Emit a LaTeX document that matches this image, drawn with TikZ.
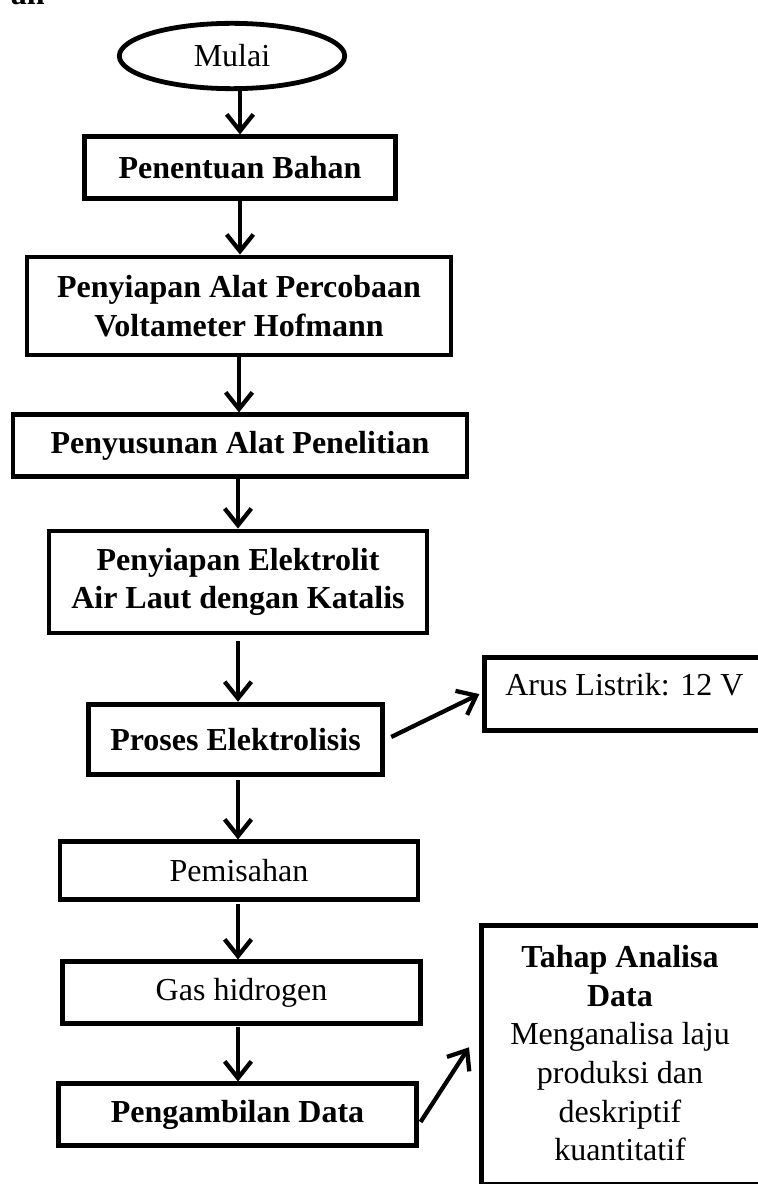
\documentclass[tikz,border=0pt]{standalone}
\usepackage{fontspec}
\setmainfont{Liberation Serif}
\usetikzlibrary{arrows.meta,shapes.geometric}
\begin{document}
\begin{tikzpicture}[x=0.75pt,y=-0.75pt,
  txt/.style={font=\fontsize{24}{29}\selectfont},
  btxt/.style={font=\fontsize{24}{29}\selectfont\bfseries},
  box/.style={draw, line width=3.6pt, fill=white, inner sep=0pt, align=center, txt},
  bbox/.style={box, btxt},
  arr/.style={line width=3.2pt, -{Straight Barb[length=12.5pt,width=20pt]}},
]
\useasboundingbox (0,0) rectangle (757,1184);
\node[anchor=base east, btxt, inner sep=0] (hd) at (45,5) {an};
\node[ellipse, draw, line width=3.6pt, minimum width=169pt, minimum height=49pt, inner sep=0, txt] (mulai) at (232,56) {Mulai};
\node[bbox, minimum width=233pt, minimum height=46pt] (pb) at (240,167.5) {Penentuan Bahan};
\node[bbox, minimum width=318pt, minimum height=73.5pt] (pa) at (239,306) {Penyiapan Alat Percobaan\\Voltameter Hofmann};
\node[bbox, minimum width=340.5pt, minimum height=46pt] (ps) at (240,445.5) {Penyusunan Alat Penelitian};
\node[bbox, minimum width=283.5pt, minimum height=76.5pt] (pe) at (238,582) {Penyiapan Elektrolit\\Air Laut dengan Katalis};
\node[bbox, minimum width=221pt, minimum height=53pt] (pr) at (235.5,739.5) {Proses Elektrolisis};
\node[box, minimum width=268.5pt, minimum height=43pt] (pm) at (239,870.5) {Pemisahan};
\node[box, minimum width=269pt, minimum height=46pt] (gh) at (241.5,992.5) {Gas hidrogen};
\node[bbox, minimum width=268pt, minimum height=46pt] (pd) at (237.5,1114.5) {Pengambilan Data};
\node[box, anchor=north west, minimum width=209pt, minimum height=55pt] (arus) at (482,655) {};
\node[anchor=base west, inner sep=0, txt] (arustext) at (505,695) {Arus Listrik: 12 V};
\node[box, anchor=north west, minimum width=213pt, minimum height=194pt] (tahap) at (479,923) {};
\node[align=center, anchor=north, inner sep=0, txt] (tahaptext) at (620,945) {\textbf{Tahap Analisa}\\\textbf{Data}\\Menganalisa laju\\produksi dan\\deskriptif\\kuantitatif};
\draw[arr] ([yshift=3pt]mulai.south -| pb.north) -- (pb.north);
\draw[arr] (pb.south) -- (pa.north -| pb.south);
\draw[arr] (pa.south) -- (ps.north -| pa.south);
\draw[arr] (ps.south -| pe.north) -- (pe.north);
\draw[arr] ([yshift=-4pt]pe.south) -- (pr.north -| pe.south);
\draw[arr] ([yshift=-2pt]pr.south -| pe.south) -- (pm.north -| pe.south);
\draw[arr] ([yshift=-2pt]pm.south -| pe.south) -- (gh.north -| pe.south);
\draw[arr] ([yshift=-1pt]gh.south -| pe.south) -- (pd.north -| pe.south);
\draw[arr] ([xshift=4.5pt,yshift=1.9pt]pr.east) -- ([xshift=-2pt]arus.west);
\draw[arr] ([xshift=1.5pt,yshift=-5.6pt]pd.east) -- ([xshift=-7.5pt,yshift=5.6pt]tahap.west);
\end{tikzpicture}
\end{document}
